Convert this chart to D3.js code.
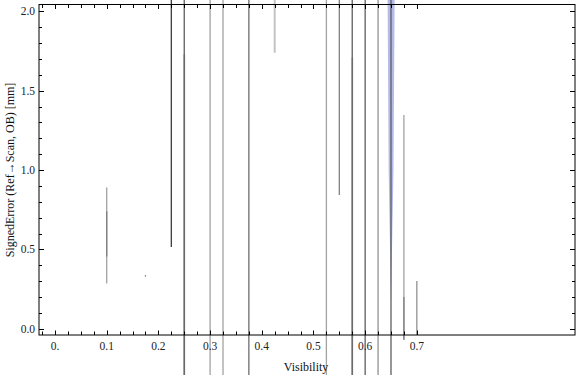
<!DOCTYPE html>
<html>
<head>
<meta charset="utf-8">
<script src="https://cdn.jsdelivr.net/npm/d3@7"></script>
<style>
  body { margin: 0; background: #fff; }
  svg { display: block; }
  .tick-label { font-family: "Liberation Serif", "Times New Roman", serif; font-size: 11.5px; fill: #222; }
  .axis-title { font-family: "Liberation Serif", "Times New Roman", serif; font-size: 12px; fill: #111; }
</style>
</head>
<body>
<div id="chart"></div>
<script>
// vertical error spans, one entry per span
const visibility = [0.1, 0.1, 0.175, 0.225, 0.25, 0.25, 0.3, 0.325, 0.375, 0.425, 0.525, 0.55, 0.575, 0.575, 0.6, 0.625, 0.65, 0.675, 0.675, 0.7];
const errLow =     [0.285, 0.455, 0.328, 0.515, -0.5, -0.5, -0.5, -0.5, -0.5, 1.74, -0.5, 0.843, -0.5, -0.5, -0.5, -0.5, -0.5, -0.07, -0.07, -0.04];
const errHigh =    [0.89, 0.74, 0.338, 2.3, 1.73, 2.3, 2.3, 2.3, 2.3, 2.3, 2.3, 2.3, 1.71, 2.3, 2.3, 2.3, 2.3, 1.347, 0.2, 0.30];
const sampleCount = [2, 3, 3, 5, 1, 4, 2, 2, 3.5, 1, 2, 3, 1, 4, 4, 2.5, 4, 2, 3, 2.5];

// shaded band around visibility 0.65
const bandValue = [2.3, 1.0, 0.15];
const bandLo =    [0.643, 0.6455, 0.65];
const bandHi =    [0.6575, 0.6548, 0.65];

const xMajor = [0, 0.1, 0.2, 0.3, 0.4, 0.5, 0.6, 0.7];
const xMajorLabels = ["0.", "0.1", "0.2", "0.3", "0.4", "0.5", "0.6", "0.7"];
const yMajor = [0, 0.5, 1.0, 1.5, 2.0];
const yMajorLabels = ["0.0", "0.5", "1.0", "1.5", "2.0"];

const width = 576, height = 375;
const frameLeft = 39, frameRight = 575, frameTop = 4.5, frameBottom = 335;

const svg = d3.select("#chart").append("svg")
  .attr("width", width).attr("height", height);

const x = d3.scaleLinear().domain([-0.031, 1.006]).range([frameLeft, frameRight]);
const y = d3.scaleLinear().domain([-0.04, 2.044]).range([frameBottom, frameTop]);

const grey = d3.scaleLinear().domain([1, 5]).range(["#c4c4c4", "#3c3c3c"]);

// band
const bandData = bandValue.map((v, i) => ({ v: v, lo: bandLo[i], hi: bandHi[i] }));
svg.append("path")
  .datum(bandData)
  .attr("fill", "#b4bbea")
  .attr("d", d3.area().y(d => y(d.v)).x0(d => x(d.lo)).x1(d => x(d.hi)));

// spans, lighter ones first
const spans = visibility.map((v, i) => ({ v: v, lo: errLow[i], hi: errHigh[i], n: sampleCount[i] }))
  .sort((a, b) => a.n - b.n);

svg.append("g").selectAll("line")
  .data(spans)
  .enter()
  .append("line")
  .attr("x1", d => x(d.v)).attr("x2", d => x(d.v))
  .attr("y1", d => y(d.hi)).attr("y2", d => y(d.lo))
  .attr("stroke", d => grey(d.n))
  .attr("stroke-width", d => d.n < 2 ? 2 : 1.3);

// frame
svg.append("rect")
  .attr("x", frameLeft).attr("y", frameTop)
  .attr("width", frameRight - frameLeft).attr("height", frameBottom - frameTop)
  .attr("fill", "none").attr("stroke", "#000").attr("stroke-width", 1);

// ticks
const xMinor = d3.range(-1, 29).map(k => k * 0.025);
const yMinor = d3.range(0, 21).map(k => k * 0.1);
const ticks = svg.append("g").attr("stroke", "#000").attr("stroke-width", 1);

xMinor.forEach(function (t) {
  const px = Math.round(x(t)) + 0.5;
  const isMajor = Math.abs(t * 10 - Math.round(t * 10)) < 1e-6;
  const len = isMajor ? 4.5 : 3.5;
  ticks.append("line").attr("x1", px).attr("x2", px).attr("y1", frameBottom).attr("y2", frameBottom - len);
  ticks.append("line").attr("x1", px).attr("x2", px).attr("y1", frameTop).attr("y2", frameTop + len);
});

yMinor.forEach(function (t) {
  const py = Math.round(y(t)) + 0.5;
  const isMajor = Math.abs(t * 2 - Math.round(t * 2)) < 1e-6;
  const len = isMajor ? 5 : 3;
  ticks.append("line").attr("x1", frameLeft).attr("x2", frameLeft + len).attr("y1", py).attr("y2", py);
  ticks.append("line").attr("x1", frameRight).attr("x2", frameRight - len).attr("y1", py).attr("y2", py);
});

// tick labels
svg.append("g").selectAll("text")
  .data(xMajor)
  .enter()
  .append("text")
  .attr("class", "tick-label")
  .attr("x", d => x(d))
  .attr("y", 350)
  .attr("text-anchor", "middle")
  .text((d, i) => xMajorLabels[i]);

svg.append("g").selectAll("text")
  .data(yMajor)
  .enter()
  .append("text")
  .attr("class", "tick-label")
  .attr("x", 35)
  .attr("y", d => y(d) + 4)
  .attr("text-anchor", "end")
  .text((d, i) => yMajorLabels[i]);

// axis titles
svg.append("text")
  .attr("class", "axis-title")
  .attr("x", 306).attr("y", 371)
  .attr("text-anchor", "middle")
  .text("Visibility");

svg.append("text")
  .attr("class", "axis-title")
  .attr("transform", "translate(14,170) rotate(-90)")
  .attr("text-anchor", "middle")
  .text("SignedError (Ref\u2192Scan, OB) [mm]");
</script>
</body>
</html>
